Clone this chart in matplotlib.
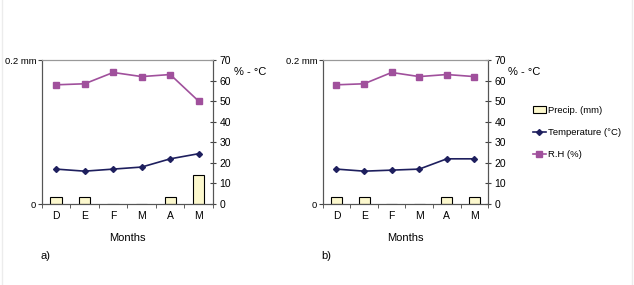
import matplotlib.pyplot as plt
import numpy as np
from matplotlib.patches import Patch, Rectangle
from matplotlib.lines import Line2D

plt.rcParams['font.family'] = ['Liberation Sans Narrow', 'Liberation Sans', 'DejaVu Sans']
plt.rcParams['font.size'] = 7.5

# ---- data ----
months = ["D", "E", "F", "M", "A", "M"]

precip_a = [0.01, 0.01, 0.0, 0.0, 0.01, 0.041]
temp_a = [17, 16, 17, 18, 22, 24.5]
rh_a = [58, 58.5, 64, 62, 63, 50]

precip_b = [0.01, 0.01, 0.0, 0.0, 0.01, 0.01]
temp_b = [17, 16, 16.5, 17, 22, 22]
rh_b = [58, 58.5, 64, 62, 63, 62]

temp_color = "#1e1f5e"
rh_color = "#a0509c"
bar_color = "#fcf8cd"

fig = plt.figure(figsize=(6.34, 2.85), dpi=100)

# faint frame round the picture
fig.patches.append(Rectangle((0.003, -0.01), 0.994, 1.02, transform=fig.transFigure,
                             fill=False, edgecolor="#ececec", linewidth=1))


def draw_panel(rect, precip, temp, rh, tag):
    ax = fig.add_axes(rect)
    x = np.arange(len(months))
    ax.bar(x, precip, width=0.4, color=bar_color, edgecolor="black", linewidth=0.8, zorder=2)
    ax.set_xlim(-0.5, len(months) - 0.5)
    ax.set_ylim(0, 0.2)
    ax.set_yticks([0, 0.2])
    ax.set_yticklabels(["0", "0.2 mm"], fontsize=6.8)
    ax.set_xticks(x)
    ax.set_xticklabels(months)
    ax.set_xticks(np.arange(-0.5, len(months), 1), minor=True)
    ax.tick_params(axis="x", which="major", length=0, pad=5)
    ax.tick_params(axis="x", which="minor", length=3, color="#444444")
    ax.tick_params(axis="y", length=3, color="#444444", pad=1)
    for s in ax.spines.values():
        s.set_color("#555555")
        s.set_linewidth(0.8)
    ax.spines["top"].set_color("#999999")

    ax2 = ax.twinx()
    ax2.plot(x, temp, color=temp_color, marker="D", markersize=3, linewidth=1.2, zorder=3)
    ax2.plot(x, rh, color=rh_color, marker="s", markersize=4, linewidth=1.2, zorder=3)
    ax2.set_ylim(0, 70)
    ax2.set_yticks(range(0, 71, 10))
    ax2.tick_params(axis="y", direction="inout", length=5, color="#444444", pad=2)
    for s in ax2.spines.values():
        s.set_color("#555555")
        s.set_linewidth(0.8)
    ax2.spines["top"].set_color("#999999")
    ax2.text(1.12, 0.915, "% - °C", transform=ax.transAxes, ha="left", va="center", fontsize=8)

    ax.text(0.5, -0.235, "Months", transform=ax.transAxes, ha="center", va="center", fontsize=8)
    ax.text(-0.01, -0.36, tag, transform=ax.transAxes, ha="left", va="center", fontsize=8)
    return ax, ax2


draw_panel([0.066, 0.284, 0.270, 0.505], precip_a, temp_a, rh_a, "a)")
draw_panel([0.509, 0.284, 0.261, 0.505], precip_b, temp_b, rh_b, "b)")

# legend
handles = [
    Patch(facecolor=bar_color, edgecolor="black", linewidth=0.8),
    Line2D([], [], color=temp_color, marker="D", markersize=3, linewidth=1.2),
    Line2D([], [], color=rh_color, marker="s", markersize=4, linewidth=1.2),
]
fig.legend(handles, ["Precip. (mm)", "Temperature (°C)", "R.H (%)"],
           loc="center left", bbox_to_anchor=(0.83, 0.535), frameon=False,
           handlelength=1.4, handletextpad=0.2, labelspacing=1.4, fontsize=6.8,
           borderpad=0.2)

fig.savefig("out.png", dpi=100)
